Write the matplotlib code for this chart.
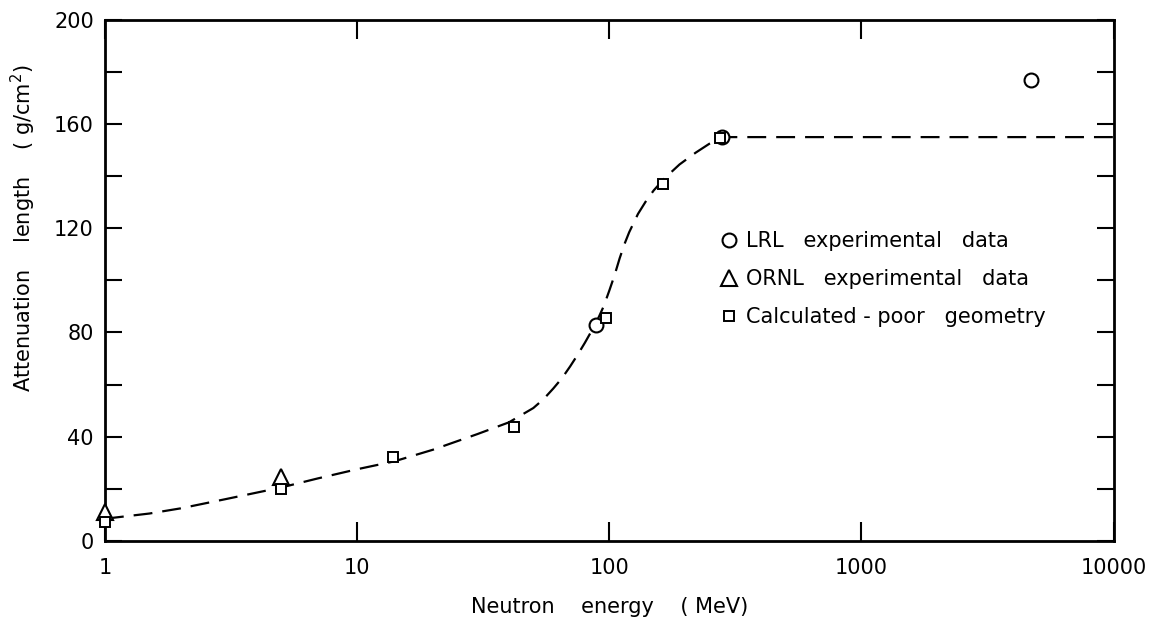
import matplotlib.pyplot as plt
from matplotlib.ticker import FixedLocator, NullFormatter

# neutron energy (MeV) / attenuation length (g/cm^2)
lrlEnergy = [89, 280, 4700]
lrlLength = [83, 155, 177]

ornlEnergy = [1, 5]
ornlLength = [11, 24.5]

calcEnergy = [1, 5, 13.9, 42, 97, 164, 275]
calcLength = [7.3, 20, 32.3, 43.8, 85.5, 137, 154.5]

# hand-drawn trend curve
curveEnergy = [1, 1.5, 2, 3, 5, 7, 10, 14, 20, 30, 40, 50, 55, 60, 65, 70, 75,
               80, 85, 90, 95, 100, 105, 110, 115, 120, 130, 140, 150, 165,
               190, 220, 250, 280, 10000]
curveLength = [8.5, 10.5, 12.5, 16, 20.5, 24, 27.5, 30.5, 35, 41, 45.5, 51,
               54.5, 58.5, 62.5, 67, 71.5, 76, 80.5, 85, 90, 96, 102, 108.5,
               114, 118.5, 125.5, 130.5, 134.5, 139, 144.5, 149, 152.5, 155, 155]

xTicks = [1, 10, 100, 1000, 10000]
xTickLabels = ["1", "10", "100", "1000", "10000"]
yTicks = [0, 40, 80, 120, 160, 200]

plt.rcParams['font.family'] = ['DejaVu Sans']

fig = plt.figure(figsize=(11.66, 6.21), dpi=100)
ax = fig.add_axes([0.090, 0.129, 0.865, 0.839])

ax.plot(curveEnergy, curveLength, 'k-', lw=1.6, dashes=[8.5, 4.5], zorder=1)
ax.plot(lrlEnergy, lrlLength, 'o', mfc='white', mec='k', mew=1.5, ms=10,
        ls='none', label='LRL   experimental   data', zorder=3, clip_on=False)
ax.plot(ornlEnergy, ornlLength, '^', mfc='white', mec='k', mew=1.5, ms=11,
        ls='none', label='ORNL   experimental   data', zorder=3, clip_on=False)
ax.plot(calcEnergy, calcLength, 's', mfc='white', mec='k', mew=1.4, ms=7.5,
        ls='none', label='Calculated - poor   geometry', zorder=4, clip_on=False)

ax.set_xscale('log')
ax.set_xlim(1, 10000)
ax.set_ylim(0, 200)

ax.xaxis.set_major_locator(FixedLocator(xTicks))
ax.xaxis.set_minor_locator(FixedLocator([]))
ax.set_xticks(xTicks)
ax.set_xticklabels(xTickLabels)
ax.xaxis.set_minor_formatter(NullFormatter())
ax.set_yticks(yTicks)
ax.set_yticks(range(20, 200, 40), minor=True)

ax.tick_params(axis='both', which='both', direction='in', width=1.5,
               top=True, right=True, labelsize=15)
ax.tick_params(axis='x', which='major', length=14, pad=12)
ax.tick_params(axis='y', which='major', length=12, pad=8)
ax.tick_params(axis='y', which='minor', length=12)

for spine in ax.spines.values():
    spine.set_linewidth(2)

ax.set_xlabel("Neutron    energy    ( MeV)", fontsize=15, labelpad=14)
ax.set_ylabel("Attenuation    length    ( g/cm$^2$)", fontsize=15)
ax.yaxis.set_label_coords(-0.066, 0.6)

ax.legend(loc='upper left', bbox_to_anchor=(0.6, 0.61), frameon=False,
          fontsize=15, handletextpad=0.3, labelspacing=0.85, handlelength=1.0,
          borderaxespad=0)

fig.savefig("out.png", dpi=100)
